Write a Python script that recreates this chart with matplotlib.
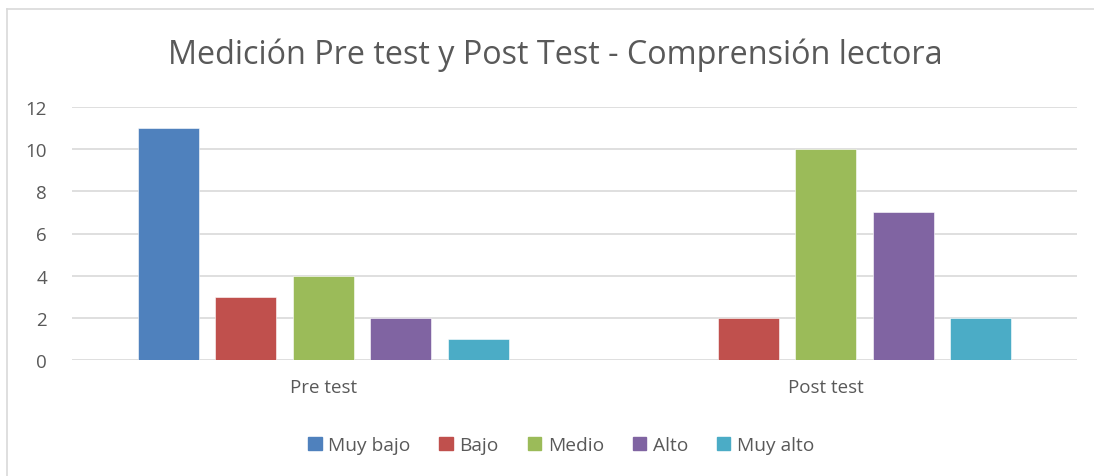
import numpy as np
import matplotlib.pyplot as plt
from matplotlib.patches import Rectangle
from matplotlib.lines import Line2D

plt.rcParams['font.family'] = ['Open Sans', 'DejaVu Sans']

categories = ["Pre test", "Post test"]
series = ["Muy bajo", "Bajo", "Medio", "Alto", "Muy alto"]
values = {
    "Muy bajo": [11, 0],
    "Bajo": [3, 2],
    "Medio": [4, 10],
    "Alto": [2, 7],
    "Muy alto": [1, 2],
}
colors = ["#4F81BD", "#C0504D", "#9BBB59", "#8064A2", "#4BACC6"]
text_color = "#595959"

fig = plt.figure(figsize=(10.94, 4.77), dpi=100)
ax = fig.add_axes([72 / 1094, 1 - 361 / 477, (1077 - 72) / 1094, (361 - 108) / 477])

x = np.arange(len(categories))
slot = 77.5 / 502.5
width = 61 / 502.5
for i, name in enumerate(series):
    off = (i - 2) * slot
    ax.bar(x + off, values[name], width, color=colors[i], edgecolor="white",
           linewidth=0.4, label=name, zorder=3)

ax.set_xlim(-0.5, 1.5)
ax.set_ylim(0, 12)
ax.set_yticks(range(0, 13, 2))
ax.grid(axis="y", color="#D9D9D9", linewidth=1.2, zorder=0)
for s in ax.spines.values():
    s.set_visible(False)
ax.tick_params(length=0, labelsize=13.5, colors=text_color)
ax.tick_params(axis="y", pad=18)
ax.tick_params(axis="x", pad=13)
ax.set_xticks(x)
ax.set_xticklabels(categories)

fig.text(0.508, 1 - 55 / 477, "Medición Pre test y Post Test - Comprensión lectora",
         ha="center", va="center", fontsize=23.3, color=text_color)

handles = [Rectangle((0, 0), 1, 1, color=c) for c in colors]
fig.legend(handles, series, loc="center", bbox_to_anchor=(0.513, 1 - 446 / 477),
           ncol=5, frameon=False, fontsize=13.8, labelcolor=text_color,
           handlelength=0.7, handleheight=0.7, handletextpad=0.35,
           columnspacing=1.5)

# chart frame (only top and left edges visible in the crop)
fig.add_artist(Line2D([7 / 1094, 7 / 1094], [0, 1 - 10 / 477], color="#D9D9D9", lw=1.2))
fig.add_artist(Line2D([7 / 1094, 1], [1 - 10 / 477, 1 - 10 / 477], color="#D9D9D9", lw=1.2))

fig.savefig("out.png", dpi=100, facecolor="white")
